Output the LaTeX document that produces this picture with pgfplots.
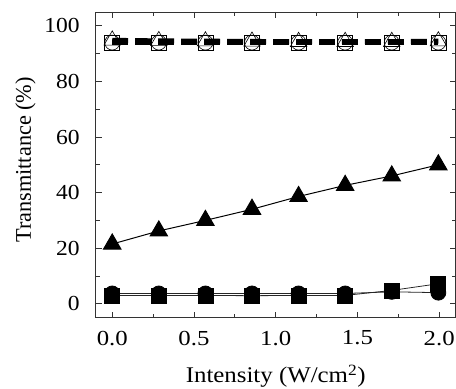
\documentclass[border=0pt]{standalone}
\usepackage{pgfplots}
\pgfplotsset{compat=1.18}
\usepackage{graphicx}
\usepackage{fontspec}
\setmainfont{Liberation Serif}
\begin{document}
\begin{tikzpicture}
\begin{axis}[
  width=360bp, height=306bp, scale only axis,
  xmin=-0.1, xmax=2.1, ymin=-5, ymax=105,
  xtick={0,0.5,1,1.5,2},
  minor xtick={0.25,0.75,1.25,1.75},
  ytick={0,20,40,60,80,100},
  minor ytick={10,30,50,70,90},
  tick align=inside,
  major tick length=6bp, minor tick length=4bp,
  xticklabel={\resizebox{31bp}{\height}{\pgfmathprintnumber[fixed,fixed zerofill,precision=1]{\tick}}},
  yticklabel={\scalebox{1.1}[1]{\pgfmathprintnumber{\tick}}},
  /pgf/number format/assume math mode=true,
  tick label style={font=\fontsize{21.5}{26}\selectfont, inner sep=0pt},
  xticklabel style={anchor=north, yshift=-13bp},
  yticklabel style={anchor=east, xshift=-16bp},
  xlabel={\resizebox{180bp}{\height}{Intensity (W/cm\textsuperscript{2})}},
  ylabel={\resizebox{166bp}{\height}{Transmittance (\%)}},
  xlabel style={font=\fontsize{22.5}{27}\selectfont, inner sep=0pt, at={(axis description cs:0.5,0)}, anchor=base, yshift=-65bp},
  ylabel style={font=\fontsize{22.5}{27}\selectfont, inner sep=0pt, at={(axis description cs:0,0.516)}, anchor=base, yshift=65bp},
  axis line style={black!80, line width=0.8pt},
  every tick/.style={black!80, line width=0.8pt},
  clip=false,
]
% bottom series: circles
\addplot[black!85, line width=0.8pt, mark=*, mark size=7.5bp, mark options={solid, black}] coordinates {
(0,3.7) (0.285,3.7) (0.57,3.7) (0.855,3.7) (1.14,3.7) (1.425,3.7) (1.71,4.3) (1.995,4.0)};
% bottom series: squares
\addplot[black!85, line width=0.8pt, mark=square*, mark size=7.5bp, mark options={solid, black}] coordinates {
(0,3.0) (0.285,3.0) (0.57,3.0) (0.855,2.9) (1.14,3.0) (1.425,3.0) (1.71,4.8) (1.995,7.2)};
% triangles
\addplot[black, line width=1pt, mark=triangle*, mark size=10bp, mark options={solid}] coordinates {
(0,21.5) (0.285,26.2) (0.57,30) (0.855,34) (1.14,38.6) (1.425,42.6) (1.71,46) (1.995,50)};
% top series
\addplot[black, line width=5bp, dash pattern=on 16bp off 7bp, mark=triangle, mark size=9.5bp, mark options={solid, line width=0.6pt}] coordinates {
(0,94.8) (0.285,94.6) (0.57,94.5) (0.855,94.4) (1.14,94.3) (1.425,94.3) (1.71,94.3) (1.995,94.5)};
\addplot[black, line width=5bp, dash pattern=on 16bp off 7bp, mark=o, mark size=7.5bp, mark options={solid, line width=0.6pt}] coordinates {
(0,94) (0.285,94) (0.57,94) (0.855,94) (1.14,94) (1.425,94) (1.71,94) (1.995,94)};
\addplot[black, line width=5bp, dash pattern=on 16bp off 7bp, mark=square, mark size=7.5bp, mark options={solid, line width=0.6pt}] coordinates {
(0,94) (0.285,94) (0.57,94) (0.855,94) (1.14,94) (1.425,94) (1.71,94) (1.995,94)};
\end{axis}
\pgfresetboundingbox
\path ([shift={(-96bp,-71bp)}]current axis.south west) rectangle ([shift={(0.5bp,12bp)}]current axis.north east);
\end{tikzpicture}
\end{document}
